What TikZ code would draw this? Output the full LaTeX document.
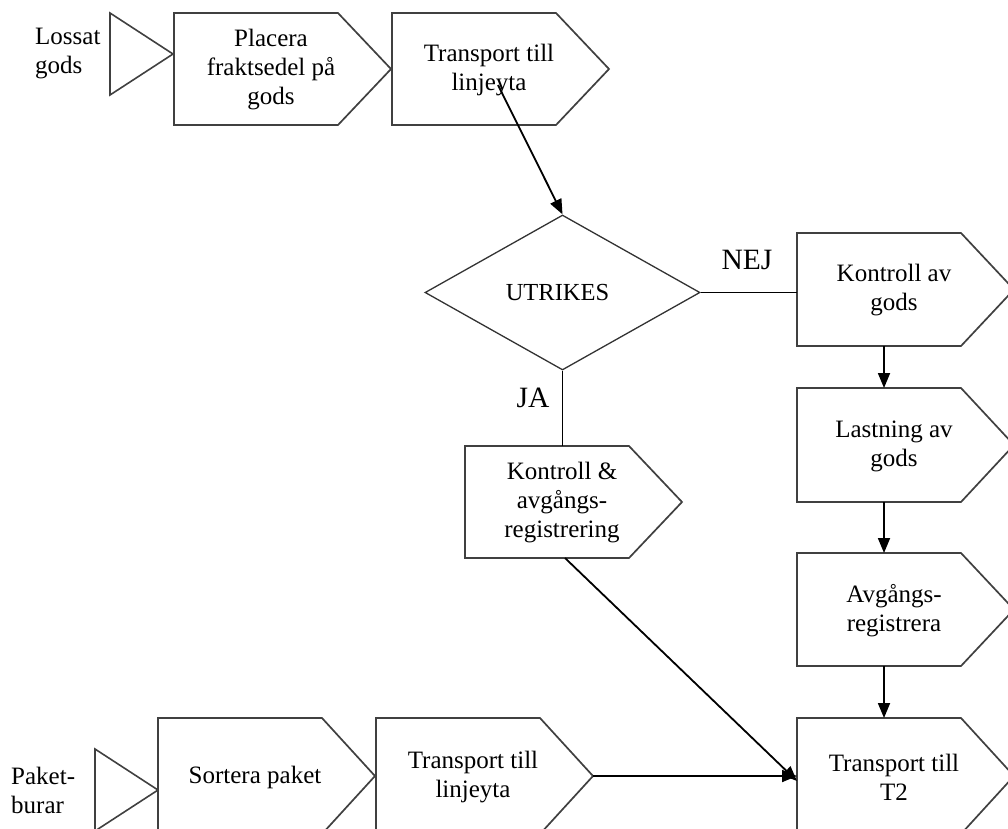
\documentclass[tikz,border=0pt]{standalone}
\usepackage{fontspec}
\setmainfont{Liberation Serif}
\usetikzlibrary{arrows.meta,shapes.geometric,calc}

% one process step: flat-backed box with a pointed right end
% #1 name, #2 left x, #3 top y, #4 height, #5 text
\newcommand\flowstep[5]{%
  \draw[stepline] (#2,#3) coordinate (#1-nw) -- ++(164,0) coordinate (#1-ne)
    -- ++(53,#4/2) coordinate (#1-tip) -- ++(-53,#4/2) coordinate (#1-se)
    -- ++(-164,0) coordinate (#1-sw) -- cycle;
  \coordinate (#1-w) at ($(#1-nw)!0.5!(#1-sw)$);
  \coordinate (#1-top) at ($(#1-nw)+(87,0)$);
  \coordinate (#1-bot) at ($(#1-sw)+(87,0)$);
  \node[steptext] (#1) at ($(#1-nw)+(97,#4/2+1)$) {#5};
}

\begin{document}
\begin{tikzpicture}[x=1pt,y=-1pt,
  stepline/.style={draw=black!75,line width=1.7pt,fill=white,line join=miter},
  steptext/.style={align=center,inner sep=0pt,font=\fontsize{25}{29}\selectfont},
  sidetext/.style={align=left,inner sep=0pt,anchor=west,font=\fontsize{25}{29}\selectfont},
  answer/.style={inner sep=0pt,font=\fontsize{29.5}{34}\selectfont},
  decision/.style={diamond,draw=black!80,line width=1.3pt,inner sep=0pt,
    minimum width=275pt,minimum height=155pt,font=\fontsize{24.5}{28}\selectfont},
  link/.style={draw=black,line width=1.8pt},
  flow/.style={link,-{Triangle[length=15pt,width=12pt]}},
  source/.style={draw=black!75,line width=1.6pt,line join=miter}]

\useasboundingbox (0,0) rectangle (1008,828);
\begin{scope}
\clip (0,0) rectangle (1008,828);

% inputs
\draw[source] (110,13) -- (110,95) -- (173,54) coordinate (in1-tip) -- cycle;
\node[sidetext] (in1) at (35,54) {Lossat\\gods};
\draw[source] (95,749) -- (95,831) -- (158,790) coordinate (in2-tip) -- cycle;
\node[sidetext] (in2) at (11,790) {Paket-\\burar};

% top row
\flowstep{pl}{174}{13}{112}{Placera\\fraktsedel på\\gods}
\flowstep{tl1}{392}{13}{112}{Transport till\\linjeyta}

% decision
\node[decision] (utr) at (562.5,292.5) {\hspace*{-10pt}UTRIKES};

% right column
\flowstep{ko}{797}{233}{113}{Kontroll av\\gods}
\flowstep{la}{797}{388}{114}{Lastning av\\gods}
\flowstep{av}{797}{553}{113}{Avgångs-\\registrera}
\flowstep{t2}{797}{718}{116}{Transport till\\T2}

% foreign branch
\flowstep{ka}{465}{446}{112}{Kontroll \&\\avgångs-\\registrering}

% bottom row
\flowstep{so}{158}{718}{116}{Sortera paket}
\flowstep{tl2}{376}{718}{116}{Transport till\\linjeyta}

% connectors
\coordinate (tl1-from) at (498,85);
\draw[flow] (tl1-from) -- (utr.north);
\draw[link] (utr.east) -- (utr.east -| ko-nw);
\node[answer] (nej) at (747,260) {NEJ};
\draw[link] (utr.south) -- (utr.south |- ka-nw);
\node[answer] (ja) at (533,398) {JA};

\draw[flow] (ko-bot) -- (la-top);
\draw[flow] (la-bot) -- (av-top);
\draw[flow] (av-bot) -- (t2-top);

\coordinate (ka-from) at (565,558);
\coordinate (t2-in) at ($(t2-nw)+(0,63)$);
\draw[flow] (ka-from) -- (t2-in);
\draw[flow] (tl2-tip) -- (tl2-tip -| t2-nw);
\end{scope}
\end{tikzpicture}
\end{document}
